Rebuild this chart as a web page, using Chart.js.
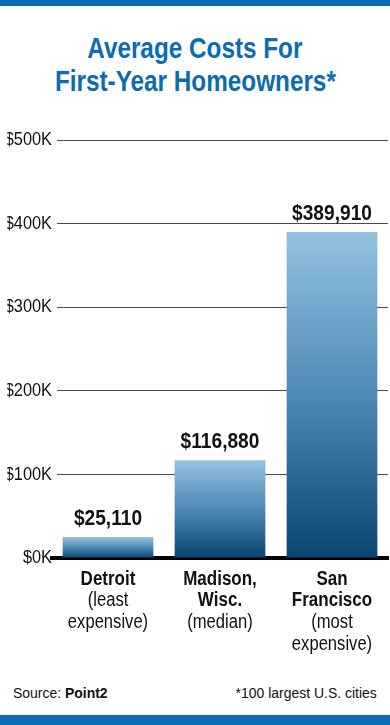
<!DOCTYPE html>
<html>
<head>
<meta charset="utf-8">
<script src="https://cdn.jsdelivr.net/npm/chart.js@4/dist/chart.umd.min.js"></script>
<style>
html,body{margin:0;padding:0;background:#fff;}
body{width:390px;height:725px;overflow:hidden;position:relative;font-family:'Liberation Sans',Arial,sans-serif;}
.band{position:absolute;left:0;width:390px;background:#0b6cb4;}
#title{position:absolute;top:31px;left:0;width:390px;text-align:center;color:#0b6cb4;font-weight:bold;font-size:30px;line-height:33px;}
#title div{white-space:nowrap;}
#title span{display:inline-block;transform:scaleX(0.81);}
#wrap{position:absolute;left:0;top:120px;width:390px;height:550px;}
.foot{position:absolute;top:683px;font-size:15px;line-height:20px;color:#111;white-space:nowrap;}
#src{left:13px;transform-origin:left center;transform:scaleX(0.93);}
#note{right:13px;transform-origin:right center;transform:scaleX(0.93);}
</style>
</head>
<body>
<div class="band" style="top:0;height:6px;"></div>
<div id="title"><div><span>Average Costs For</span></div><div><span>First-Year Homeowners*</span></div></div>
<div id="wrap"><canvas id="c" width="390" height="550"></canvas></div>
<div class="foot" id="src">Source: <b>Point2</b></div>
<div class="foot" id="note">*100 largest U.S. cities</div>
<div class="band" style="top:715px;height:10px;"></div>
<script>
const categories = ['Detroit', 'Madison, Wisc.', 'San Francisco'];
const nameLines = [['Detroit'], ['Madison,', 'Wisc.'], ['San', 'Francisco']];
const noteLines = [['(least', 'expensive)'], ['(median)'], ['(most', 'expensive)']];
const costs = [25110, 116880, 389910];
const costLabels = ['$25,110', '$116,880', '$389,910'];
const tickValues = [0, 100000, 200000, 300000, 400000, 500000];
const tickLabels = ['$0K', '$100K', '$200K', '$300K', '$400K', '$500K'];

const FONT = "'Liberation Sans', Arial, sans-serif";

function drawCondensed(c, text, x, y, font, sx, align) {
  c.save();
  c.font = font;
  c.fillStyle = '#111';
  c.textAlign = align;
  c.textBaseline = 'middle';
  c.translate(x, y);
  c.scale(sx, 1);
  c.fillText(text, 0, 0);
  c.restore();
}

const condenseY = {
  id: 'condenseY',
  afterLayout(chart) {
    const s = chart.scales.y;
    if (!s || s._condensed) return;
    const orig = s.drawLabels.bind(s);
    s.drawLabels = function (area) {
      const c = chart.ctx;
      const x0 = chart.chartArea.left;
      c.save();
      c.translate(x0, 0); c.scale(0.86, 1); c.translate(-x0, 0);
      orig(area);
      c.restore();
    };
    s._condensed = true;
  }
};

const gapCover = {
  id: 'gapCover',
  beforeDatasetsDraw(chart) {
    const a = chart.chartArea, c = chart.ctx;
    c.save();
    c.fillStyle = '#fff';
    c.fillRect(a.left, a.top - 3, 5, a.bottom - a.top + 1);
    c.restore();
  }
};

const labelsPlugin = {
  id: 'labelsPlugin',
  afterDatasetsDraw(chart) {
    const c = chart.ctx;
    const meta = chart.getDatasetMeta(0);
    meta.data.forEach((bar, i) => {
      c.save();
      c.font = 'bold 22px ' + FONT;
      c.fillStyle = '#111';
      c.textAlign = 'center';
      c.textBaseline = 'alphabetic';
      c.translate(bar.x, bar.y - 12);
      c.scale(0.87, 1);
      c.fillText(costLabels[i], 0, 0);
      c.restore();
    });
    const xs = chart.scales.x;
    const b = chart.chartArea.bottom;
    categories.forEach((cat, i) => {
      const x = xs.getPixelForValue(i);
      let y = b + 21;
      nameLines[i].forEach(t => { drawCondensed(c, t, x, y, 'bold 20px ' + FONT, 0.85, 'center'); y += 21.7; });
      noteLines[i].forEach(t => { drawCondensed(c, t, x, y, '20px ' + FONT, 0.83, 'center'); y += 21.7; });
    });
  }
};

new Chart(document.getElementById('c'), {
  type: 'bar',
  data: {
    labels: categories,
    datasets: [{
      data: costs,
      backgroundColor: (ctx) => {
        const chart = ctx.chart;
        if (!chart.chartArea || ctx.type !== 'data' || !chart.scales.y) return '#4a84b0';
        const top = chart.scales.y.getPixelForValue(ctx.raw);
        const bot = chart.scales.y.getPixelForValue(0);
        const g = chart.ctx.createLinearGradient(0, top, 0, bot);
        g.addColorStop(0, '#94c2e1');
        g.addColorStop(0.5, '#4f89b6');
        g.addColorStop(1, '#0a4572');
        return g;
      },
      borderWidth: 0,
      barPercentage: 0.81,
      categoryPercentage: 1
    }]
  },
  options: {
    responsive: false,
    animation: false,
    events: [],
    layout: { padding: { top: 20, right: 2, left: 0, bottom: 0 } },
    plugins: { legend: { display: false }, tooltip: { enabled: false }, title: { display: false } },
    scales: {
      x: {
        grid: { display: false, drawTicks: false },
        border: { display: true, color: '#000', width: 4 },
        ticks: { display: false },
        afterFit(s) { s.height = 112; }
      },
      y: {
        min: 0, max: 500000,
        afterBuildTicks(s) { s.ticks = tickValues.map(v => ({ value: v })); },
        afterFit(s) { s.width = 52; },
        grid: { color: '#4a4a4a', lineWidth: 1, drawTicks: false },
        border: { display: false },
        ticks: {
          padding: 0,
          color: '#111',
          font: { family: FONT, size: 19 },
          callback: (v, i) => tickLabels[i]
        }
      }
    }
  },
  plugins: [condenseY, gapCover, labelsPlugin]
});
</script>
</body>
</html>
